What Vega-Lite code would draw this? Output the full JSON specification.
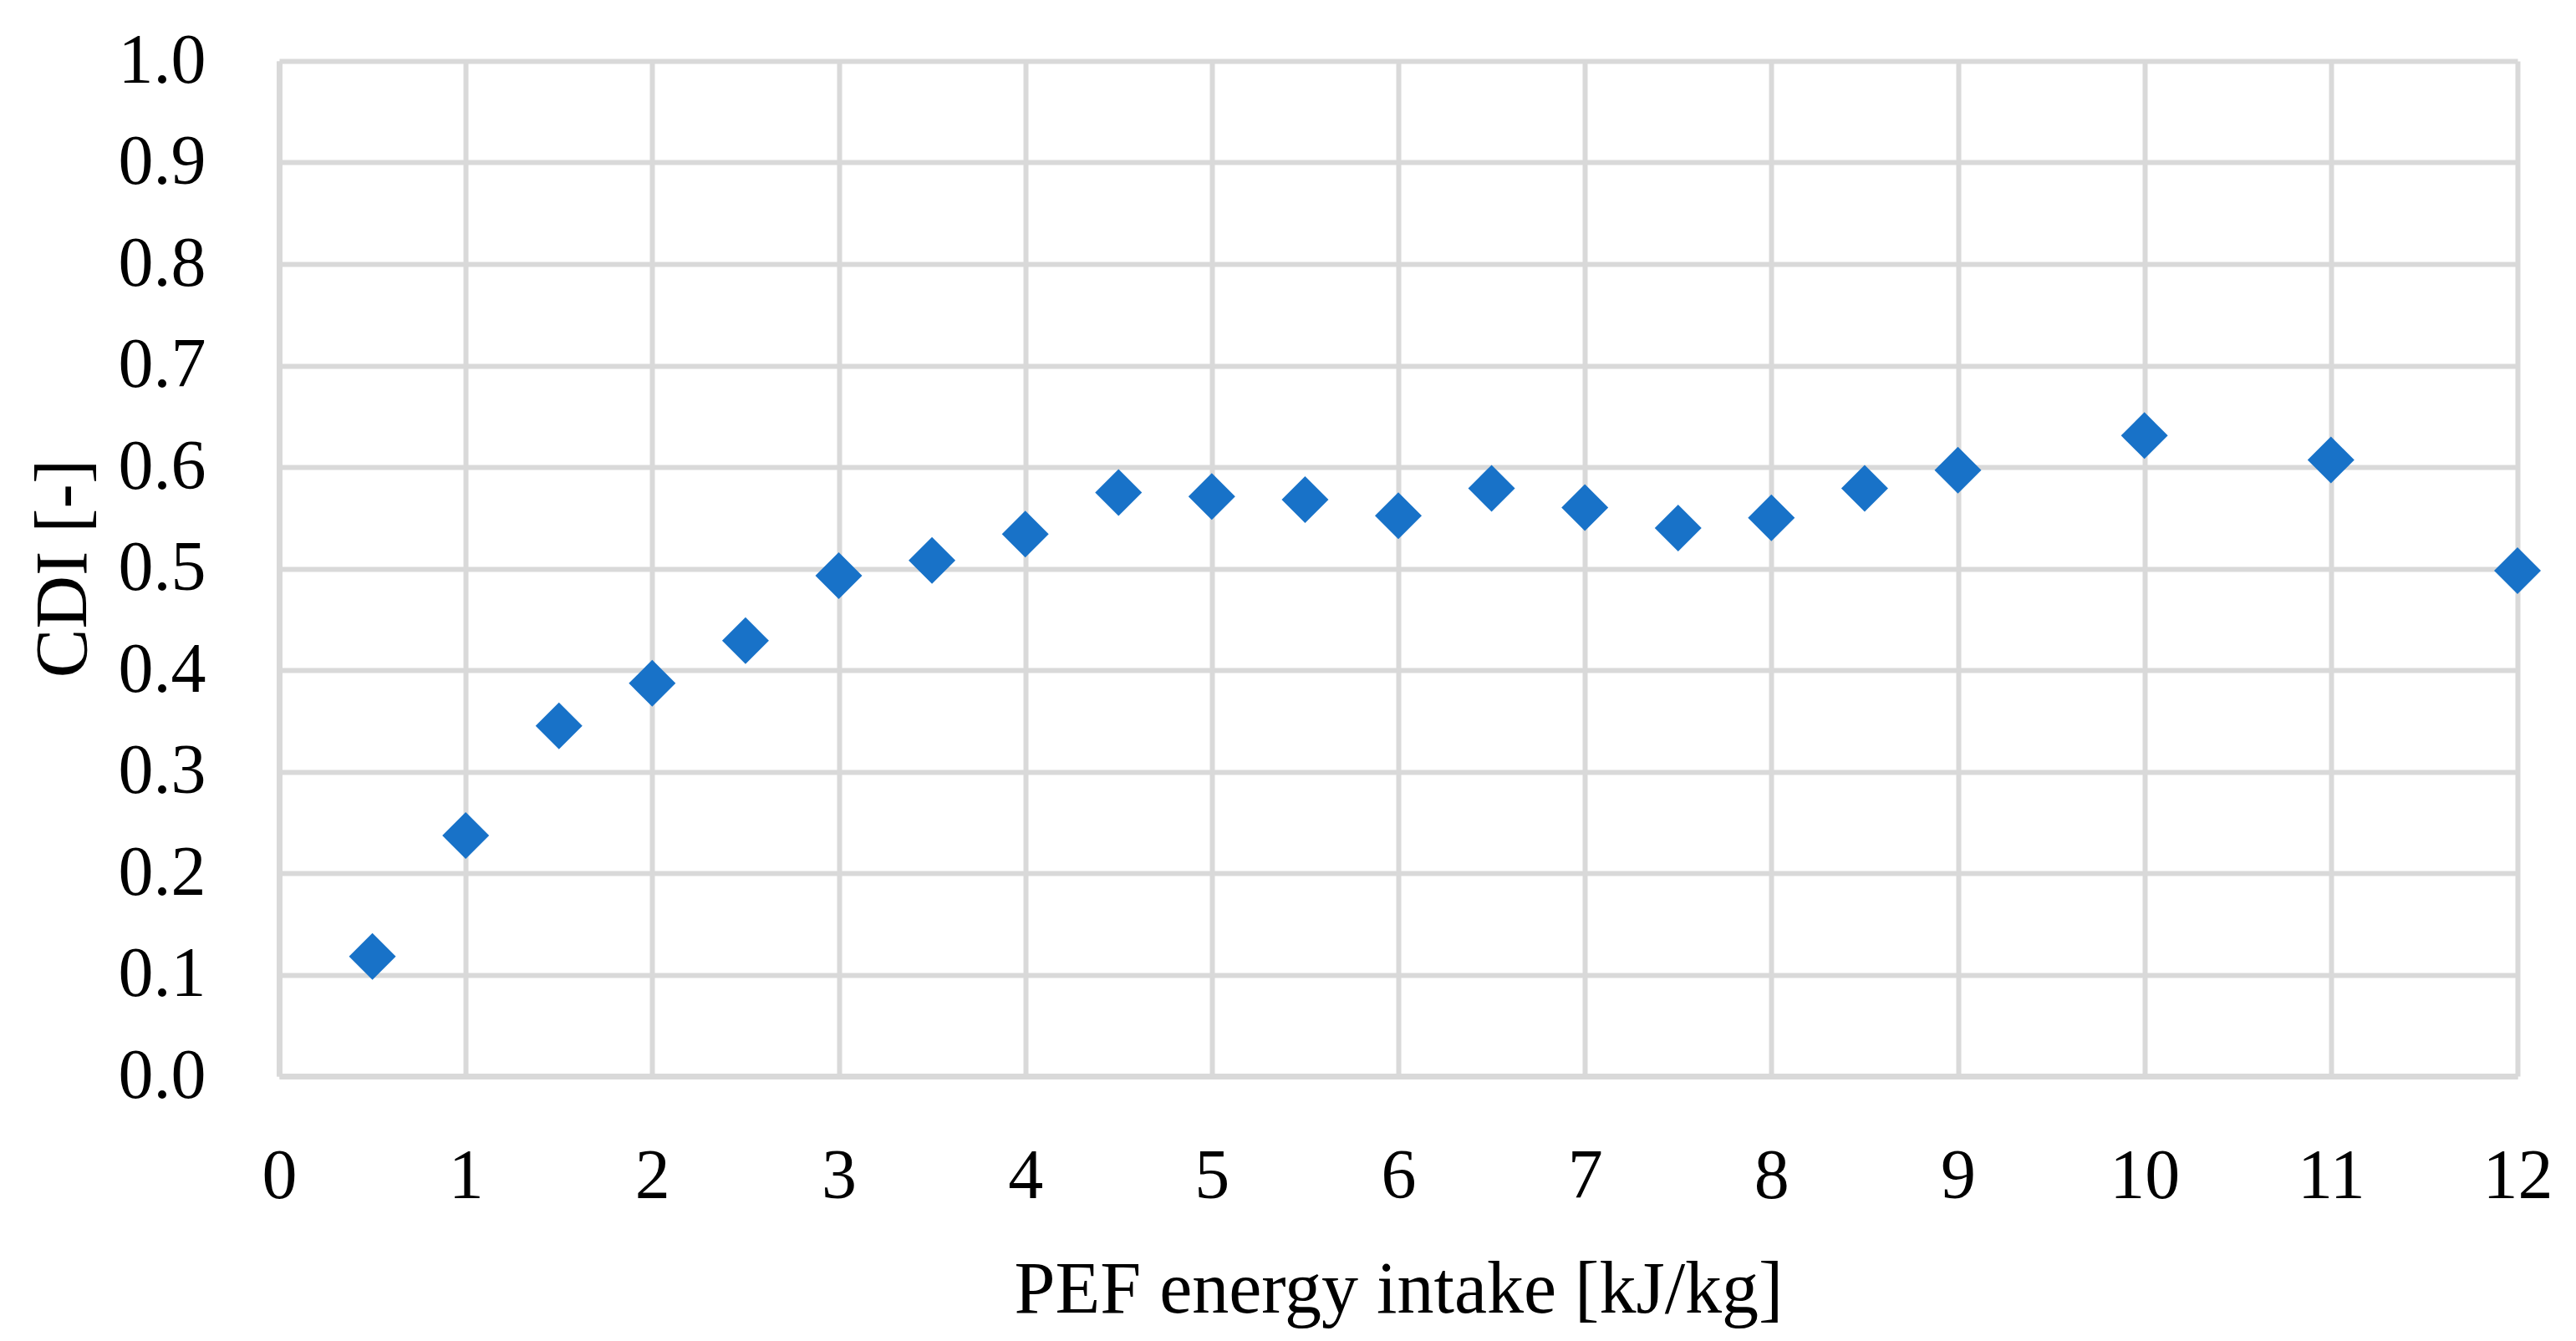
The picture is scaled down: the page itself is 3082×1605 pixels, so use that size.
{
  "$schema": "https://vega.github.io/schema/vega-lite/v6.json",
  "width": 2678,
  "height": 1215,
  "autosize": {"type": "none"},
  "padding": {"left": 334, "top": 73, "right": 70, "bottom": 317},
  "background": "white",
  "config": {
    "view": {"stroke": null},
    "font": "Liberation Serif",
    "axis": {
      "gridColor": "#d9d9d9",
      "gridWidth": 6,
      "gridOpacity": 1,
      "domainColor": "#d9d9d9",
      "domainWidth": 7,
      "ticks": false,
      "tickSize": 0,
      "labelFont": "Liberation Serif",
      "labelFontSize": 84,
      "labelColor": "black",
      "titleFont": "Liberation Serif",
      "titleFontSize": 88,
      "titleFontWeight": "normal",
      "titleColor": "black"
    }
  },
  "data": {
    "values": [
      {"x": 0.5, "y": 0.118},
      {"x": 1.0, "y": 0.237},
      {"x": 1.5, "y": 0.345},
      {"x": 2.0, "y": 0.387},
      {"x": 2.5, "y": 0.429},
      {"x": 3.0, "y": 0.493},
      {"x": 3.5, "y": 0.508},
      {"x": 4.0, "y": 0.534},
      {"x": 4.5, "y": 0.575},
      {"x": 5.0, "y": 0.571},
      {"x": 5.5, "y": 0.568},
      {"x": 6.0, "y": 0.552},
      {"x": 6.5, "y": 0.579},
      {"x": 7.0, "y": 0.560},
      {"x": 7.5, "y": 0.540},
      {"x": 8.0, "y": 0.550},
      {"x": 8.5, "y": 0.579},
      {"x": 9.0, "y": 0.597},
      {"x": 10.0, "y": 0.631},
      {"x": 11.0, "y": 0.607},
      {"x": 12.0, "y": 0.498}
    ]
  },
  "mark": {"type": "point", "shape": "diamond", "filled": true, "size": 3136, "color": "#1872C8", "opacity": 1, "clip": false},
  "encoding": {
    "x": {
      "field": "x",
      "type": "quantitative",
      "scale": {"domain": [0, 12], "nice": false, "zero": true},
      "axis": {
        "values": [0, 1, 2, 3, 4, 5, 6, 7, 8, 9, 10, 11, 12],
        "format": "d",
        "labelBaseline": "alphabetic",
        "labelPadding": 145,
        "labelFlush": false,
        "labelOverlap": false,
        "title": "PEF energy intake [kJ/kg]",
        "titleBaseline": "alphabetic",
        "titleY": 282,
        "titleX": 1339,
        "titleAlign": "center"
      }
    },
    "y": {
      "field": "y",
      "type": "quantitative",
      "scale": {"domain": [0, 1], "nice": false},
      "axis": {
        "values": [0, 0.1, 0.2, 0.3, 0.4, 0.5, 0.6, 0.7, 0.8, 0.9, 1.0],
        "format": ".1f",
        "labelPadding": 88,
        "labelFlush": false,
        "labelOverlap": false,
        "title": "CDI [-]",
        "titleAngle": -90,
        "titleBaseline": "alphabetic",
        "titleAlign": "center",
        "titleX": -232,
        "titleY": 607
      }
    }
  }
}
